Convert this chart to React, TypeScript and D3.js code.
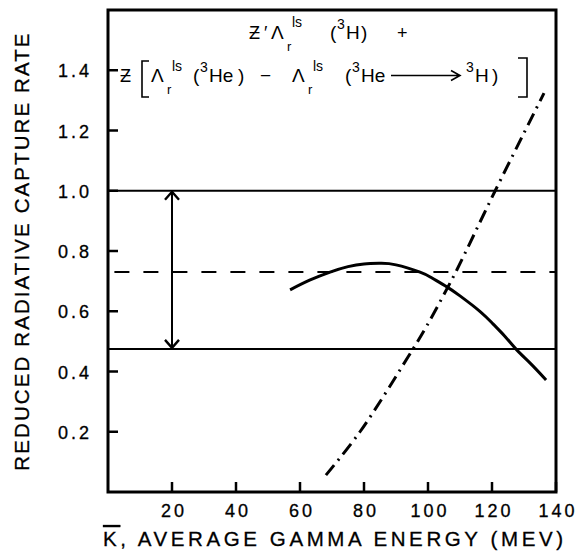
import React, { useEffect, useRef } from 'react';
import * as d3 from 'd3';

// values
const xTicks = [20, 40, 60, 80, 100, 120, 140];
const yTicks = [0.2, 0.4, 0.6, 0.8, 1.0, 1.2, 1.4];
const xTickLabels = ['20', '40', '60', '80', '100', '120', '140'];
const yTickLabels = ['0.2', '0.4', '0.6', '0.8', '1.0', '1.2', '1.4'];

// solid curve
const solidK = [56.9, 63, 69.4, 75, 80, 85, 90, 97.5, 101, 105.9, 110, 116.3, 120.3, 124, 127.8, 132, 136.9];
const solidRate = [0.671, 0.703, 0.73, 0.748, 0.757, 0.759, 0.754, 0.73, 0.712, 0.681, 0.651, 0.599, 0.558, 0.517, 0.471, 0.427, 0.372];

// dash-dot curve
const dashDotK = [68.1, 78.75, 93.75, 99.7, 105.6, 109, 121, 136.25];
const dashDotRate = [0.056, 0.2, 0.448, 0.553, 0.668, 0.737, 1.0, 1.324];

const dashedLevel = 0.73;
const upperLevel = 1.0;
const lowerLevel = 0.475;
const arrowK = 20;

const W = 585;
const H = 560;
const FONT = '"Liberation Sans", Arial, Helvetica, sans-serif';

const App = () => {
  const svgRef = useRef(null);

  useEffect(() => {
    const svg = d3.select(svgRef.current);
    svg.selectAll('*').remove();

    const margin = { top: 10, right: 29, bottom: 68, left: 108 };
    const width = W - margin.left - margin.right;
    const height = H - margin.top - margin.bottom;

    const g = svg.append('g').attr('transform', `translate(${margin.left},${margin.top})`);

    const x = d3.scaleLinear().domain([0, 140]).range([0, width]);
    const y = d3.scaleLinear().domain([0, 1.6]).range([height, 0]);

    // horizontal reference lines
    [upperLevel, lowerLevel].forEach((v) => {
      g.append('line')
        .attr('x1', 0).attr('x2', width)
        .attr('y1', y(v)).attr('y2', y(v))
        .attr('stroke', '#000').attr('stroke-width', 2);
    });

    // dashed level
    g.append('line')
      .attr('x1', x(2)).attr('x2', width)
      .attr('y1', y(dashedLevel)).attr('y2', y(dashedLevel))
      .attr('stroke', '#000').attr('stroke-width', 2)
      .attr('stroke-dasharray', '15 14');

    // double arrow
    const ax = x(arrowK);
    g.append('line')
      .attr('x1', ax).attr('x2', ax)
      .attr('y1', y(upperLevel) + 1).attr('y2', y(lowerLevel) - 1)
      .attr('stroke', '#000').attr('stroke-width', 2);
    g.append('path')
      .attr('d', `M${ax - 7},${y(upperLevel) + 9}L${ax},${y(upperLevel) + 1}L${ax + 7},${y(upperLevel) + 9}`)
      .attr('fill', 'none').attr('stroke', '#000').attr('stroke-width', 2.4);
    g.append('path')
      .attr('d', `M${ax - 7},${y(lowerLevel) - 9}L${ax},${y(lowerLevel) - 1}L${ax + 7},${y(lowerLevel) - 9}`)
      .attr('fill', 'none').attr('stroke', '#000').attr('stroke-width', 2.4);

    // curves
    const smooth = d3.line().curve(d3.curveNatural);
    g.append('path')
      .attr('d', smooth(solidK.map((k, i) => [x(k), y(solidRate[i])])))
      .attr('fill', 'none').attr('stroke', '#000').attr('stroke-width', 3);

    const line = d3.line().curve(d3.curveCatmullRom.alpha(0.5));
    g.append('path')
      .attr('d', line(dashDotK.map((k, i) => [x(k), y(dashDotRate[i])])))
      .attr('fill', 'none').attr('stroke', '#000').attr('stroke-width', 3)
      .attr('stroke-dasharray', '13 6 2 6');

    // ticks (inward)
    xTicks.forEach((t) => {
      g.append('line')
        .attr('x1', x(t)).attr('x2', x(t))
        .attr('y1', height).attr('y2', height - 10)
        .attr('stroke', '#000').attr('stroke-width', 2.5);
    });
    yTicks.forEach((t) => {
      g.append('line')
        .attr('x1', 0).attr('x2', 10)
        .attr('y1', y(t)).attr('y2', y(t))
        .attr('stroke', '#000').attr('stroke-width', 2.5);
    });

    // frame
    g.append('rect')
      .attr('x', 0).attr('y', 0).attr('width', width).attr('height', height)
      .attr('fill', 'none').attr('stroke', '#000').attr('stroke-width', 3);

    // tick labels
    g.selectAll('.xl')
      .data(xTicks)
      .enter()
      .append('text')
      .attr('x', (d) => x(d) + 2)
      .attr('y', height + 25)
      .attr('text-anchor', 'middle')
      .attr('font-family', FONT)
      .attr('font-size', 18)
      .attr('letter-spacing', 3)
      .attr('stroke', '#000').attr('stroke-width', 0.3)
      .text((d, i) => xTickLabels[i]);

    g.selectAll('.yl')
      .data(yTicks)
      .enter()
      .append('text')
      .attr('x', -16)
      .attr('y', (d) => y(d) + 7)
      .attr('text-anchor', 'end')
      .attr('font-family', FONT)
      .attr('font-size', 18)
      .attr('letter-spacing', 3)
      .attr('stroke', '#000').attr('stroke-width', 0.3)
      .text((d, i) => yTickLabels[i]);

    // axis titles
    const xt = svg.append('text')
      .attr('x', 103).attr('y', 546)
      .attr('font-family', FONT).attr('font-size', 20.5)
      .attr('letter-spacing', 3.6)
      .attr('stroke', '#000').attr('stroke-width', 0.3);
    xt.append('tspan').text('K').attr('text-decoration', 'overline');
    xt.append('tspan').text(', AVERAGE GAMMA ENERGY (MEV)');

    svg.append('text')
      .attr('transform', 'translate(29,251) rotate(-90)')
      .attr('text-anchor', 'middle')
      .attr('font-family', FONT).attr('font-size', 20.5)
      .attr('letter-spacing', 2.1)
      .attr('stroke', '#000').attr('stroke-width', 0.3)
      .text('REDUCED RADIATIVE CAPTURE RATE');

    // formula in the upper part of the frame
    const t = svg.append('g').attr('font-family', FONT).attr('fill', '#000');
    const put = (s, px, py, fs = 19) =>
      t.append('text').attr('x', px).attr('y', py).attr('font-size', fs).text(s);

    // line 1
    put('Ƶ', 249, 39, 18);
    put('′', 264, 39, 18);
    put('Λ', 271, 39);
    put('r', 287, 51, 13);
    put('ls', 292, 27, 14);
    put('(', 330, 39);
    put('3', 337, 29, 14);
    put('H', 346, 39);
    put(')', 361, 39);
    put('+', 397, 39, 18);

    // line 2
    put('Ƶ', 120, 82, 18);
    t.append('path')
      .attr('d', 'M149,61H142V97H149')
      .attr('fill', 'none').attr('stroke', '#000').attr('stroke-width', 1.6);
    put('Λ', 151, 82);
    put('r', 167, 94, 13);
    put('ls', 172, 71, 14);
    put('(', 193, 82);
    put('3', 200, 72, 14);
    put('He', 209, 82);
    put(')', 238, 82);
    put('−', 260, 82);
    put('Λ', 292, 82);
    put('r', 308, 94, 13);
    put('ls', 313, 71, 14);
    put('(', 345, 82);
    put('3', 352, 72, 14);
    put('He', 361, 82);
    t.append('path')
      .attr('d', 'M391,75.5H459M451,70.5L460,75.5L451,80.5')
      .attr('fill', 'none').attr('stroke', '#000').attr('stroke-width', 1.6);
    put('3', 466, 72, 14);
    put('H', 475, 82);
    put(')', 492, 82);
    t.append('path')
      .attr('d', 'M518,58H527V97H518')
      .attr('fill', 'none').attr('stroke', '#000').attr('stroke-width', 1.6);
  }, []);

  return (
    <svg
      ref={svgRef}
      width={W}
      height={H}
      style={{ position: 'absolute', left: 0, top: 0, background: '#fff' }}
    />
  );
};

export default App;
